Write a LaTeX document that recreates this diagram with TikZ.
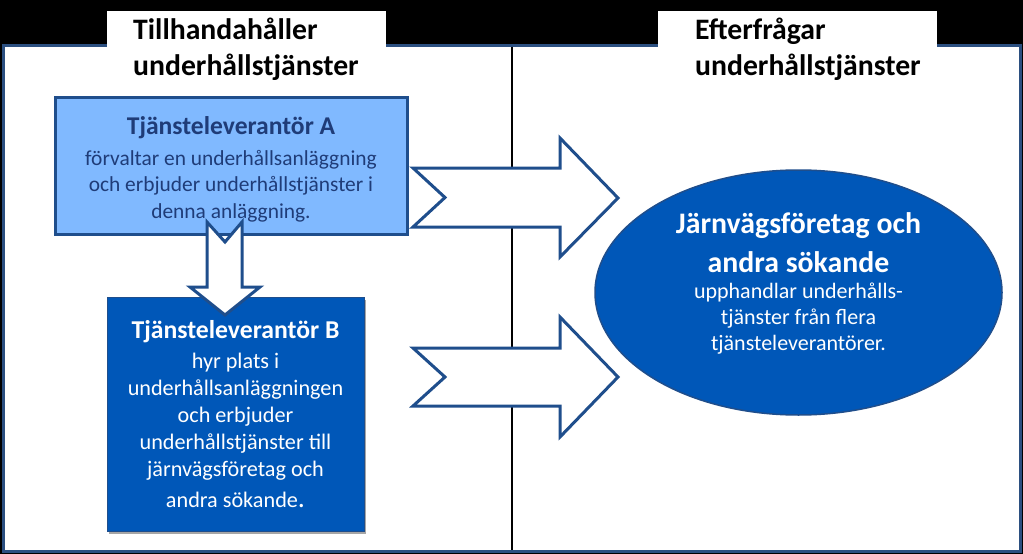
\documentclass[tikz,border=0pt]{standalone}
\usepackage{fontspec}
\setmainfont{Carlito}
\usetikzlibrary{shapes.geometric}
\definecolor{navy}{HTML}{1F4E8C}
\definecolor{panelb}{HTML}{2B4F80}
\definecolor{lblue}{HTML}{80B9FF}
\definecolor{dblue}{HTML}{0057B8}
\definecolor{titleA}{HTML}{1F3C78}
\begin{document}
\begin{tikzpicture}[x=1pt,y=-1pt,
  hdr/.style={anchor=north west, inner sep=0pt, align=left, text=black,
    font=\fontsize{29.7}{36}\selectfont\bfseries},
  blockarrow/.style={draw=navy, line width=3pt, fill=white, line join=miter},
  boxA/.style={rectangle, fill=lblue, draw=navy, line width=3pt, minimum width=352pt,
    minimum height=137pt, inner sep=0pt},
  boxB/.style={rectangle, fill=dblue, draw=navy, line width=1pt, minimum width=257pt,
    minimum height=234pt, inner sep=0pt, align=center, text=white,
    font=\fontsize{22.2}{27}\selectfont},
  oval/.style={ellipse, fill=dblue, draw=navy, line width=1.5pt, minimum width=407pt,
    minimum height=245pt, inner sep=0pt},
  txtA/.style={inner sep=0pt, align=center, text=titleA, font=\fontsize{21.4}{26.5}\selectfont},
  txtC/.style={inner sep=0pt, align=center, text=white, font=\fontsize{22}{26}\selectfont}]
\fill[black] (0,0) rectangle (1023,554);
\useasboundingbox (0,0) rectangle (1023,554);
% panel
\draw[panelb, line width=3pt, fill=white] (3,45) rectangle (1020,551);
\fill[white] (107,11) rectangle (386,47);
\fill[white] (658,11) rectangle (937,47);
\coordinate (dtop) at (512,46.5);
\coordinate (dbot) at (512,549.5);
\draw[black, line width=1.2pt] (dtop) -- (dbot);
% headers
\node[hdr] (hL) at (133,18) {Tillhandahåller\\underhållstjänster};
\node[hdr] (hR) at (695,18) {Efterfrågar\\underhållstjänster};
% boxes
\node[boxA] (A) at (231,165.5) {};
\node[txtA] (At) at ([yshift=-4pt]A.center) {\textbf{\fontsize{25.6}{27}\selectfont Tjänsteleverantör A}\\[4pt]
  förvaltar en underhållsanläggning\\ och erbjuder underhållstjänster i\\ denna anläggning.};
\fill[black, opacity=0.35] (109,300) rectangle (366,534);
\node[boxB] (B) at (235.5,414) {\textbf{\fontsize{25.7}{27}\selectfont Tjänsteleverantör B}\\[3pt]
  hyr plats i\\ underhållsanläggningen\\ och erbjuder\\ underhållstjänster till\\ järnvägsföretag och\\[4pt] andra sökande{\fontsize{28}{27}\selectfont .}};
\node[oval] (C) at (798.5,292.5) {};
\node[txtC] (Ct) at ([yshift=9pt]C.center) {\textbf{\fontsize{29.8}{37}\selectfont Järnvägsföretag och}\\[13pt]
  \textbf{\fontsize{29.8}{37}\selectfont andra sökande}\\
  upphandlar underhålls-\\ tjänster från flera\\ tjänsteleverantörer.};
% down arrow A -> B
\draw[blockarrow] (207,222) -- (225,242) -- (242,222) -- (242,287) -- (260,287)
  -- (225,315) -- (190,287) -- (207,287) -- cycle;
% right arrows
\draw[blockarrow] (413,168) -- (560,168) -- (560,138) -- (618,198) -- (560,257)
  -- (560,227) -- (413,227) -- (445,197.5) -- cycle;
\draw[blockarrow] (413,348) -- (560,348) -- (560,317) -- (618,377) -- (560,437)
  -- (560,406) -- (413,406) -- (445,377) -- cycle;
\end{tikzpicture}
\end{document}
